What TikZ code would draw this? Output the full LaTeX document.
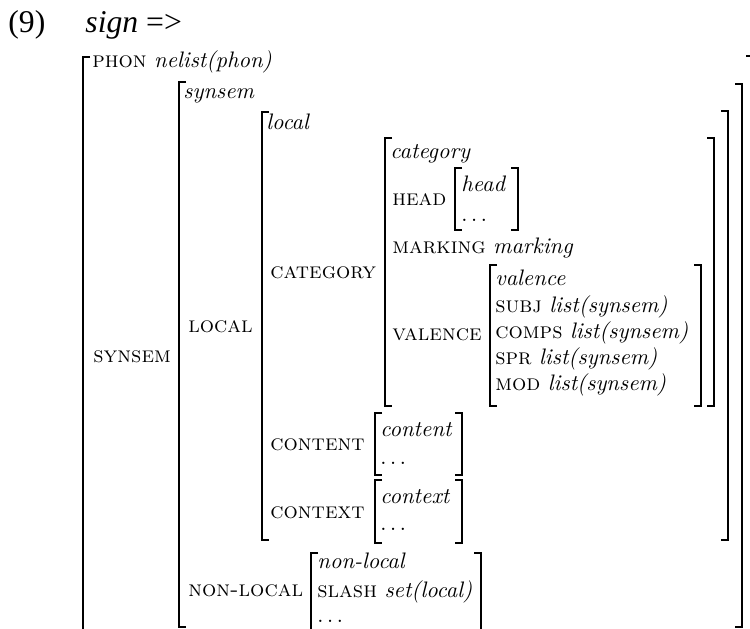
\documentclass[tikz,border=0pt]{standalone}
\usepackage{fontspec}
\newfontfamily\timesfont{Liberation Serif}
\newcommand\avmL[3]{\draw[brk] ({#1+7},#2) -- (#1,#2) -- (#1,#3) -- ({#1+7},#3);}
\newcommand\avmR[3]{\draw[brk] ({#1-7},#2) -- (#1,#2) -- (#1,#3) -- ({#1-7},#3);}
\begin{document}
\begin{tikzpicture}[x=0.4545pt,y=-0.4545pt,
  lbl/.style={anchor=base west, inner sep=0pt, font=\fontsize{10.2}{12}\selectfont},
  ttl/.style={anchor=base west, inner sep=0pt, font=\fontsize{14.4}{17}\selectfont\timesfont},
  brk/.style={line width=0.9pt, line cap=butt, line join=miter}]
\path[use as bounding box] (0,0) rectangle (750,628);
\clip (0,0) rectangle (750,628);
% title
\node[ttl] (ex) at (8,32) {(9)};
\node[ttl] (sg) at (85,32) {\textit{sign} =>};
% outer sign AVM
\avmL{83}{57}{640}
\avmR{753}{56}{640}
\node[lbl] (phon) at (92,67) {\textsc{phon} \textit{nelist(phon)}};
\node[lbl] (synsemL) at (93,362) {\textsc{synsem}};
% synsem AVM
\avmL{179}{82}{627}
\avmR{742}{84}{627}
\node[lbl] (synsemT) at (183,98) {\textit{synsem}};
\node[lbl] (localL) at (188,332) {\textsc{local}};
\node[lbl] (nlL) at (188,596) {\textsc{non-local}};
% local AVM
\avmL{262}{112}{540}
\avmR{728}{111}{540}
\node[lbl] (localT) at (266,129) {\textit{local}};
\node[lbl] (catL) at (270,278) {\textsc{category}};
\node[lbl] (contL) at (270,450) {\textsc{content}};
\node[lbl] (ctxL) at (270,518) {\textsc{context}};
% category AVM
\avmL{385}{138}{406}
\avmR{714}{138}{406}
\node[lbl] (catT) at (390,158) {\textit{category}};
\node[lbl] (headL) at (392,205) {\textsc{head}};
\node[lbl] (mark) at (392,253) {\textsc{marking} \textit{marking}};
\node[lbl] (valL) at (392,340) {\textsc{valence}};
% head AVM
\avmL{455}{168}{230}
\avmR{518}{168}{230}
\node[lbl] (headT) at (461,191) {\textit{head}};
\node[lbl] (headD) at (461,221) {$\ldots$};
% valence AVM
\avmL{490}{265}{406}
\avmR{701}{265}{406}
\node[lbl] (valT) at (495,285) {\textit{valence}};
\node[lbl] (subj) at (495,312) {\textsc{subj} \textit{list(synsem)}};
\node[lbl] (comps) at (495,338) {\textsc{comps} \textit{list(synsem)}};
\node[lbl] (spr) at (495,364) {\textsc{spr} \textit{list(synsem)}};
\node[lbl] (mod) at (495,390) {\textsc{mod} \textit{list(synsem)}};
% content AVM
\avmL{375}{413}{475}
\avmR{462}{413}{475}
\node[lbl] (contT) at (380,436) {\textit{content}};
\node[lbl] (contD) at (380,464) {$\ldots$};
% context AVM
\avmL{375}{480}{543}
\avmR{462}{480}{543}
\node[lbl] (ctxT) at (380,503) {\textit{context}};
\node[lbl] (ctxD) at (380,530) {$\ldots$};
% non-local AVM
\avmL{311}{553}{640}
\avmR{481}{553}{640}
\node[lbl] (nlT) at (317,568) {\textit{non-local}};
\node[lbl] (slash) at (317,597) {\textsc{slash} \textit{set(local)}};
\node[lbl] (nlD) at (317,622) {$\ldots$};
\end{tikzpicture}
\end{document}
